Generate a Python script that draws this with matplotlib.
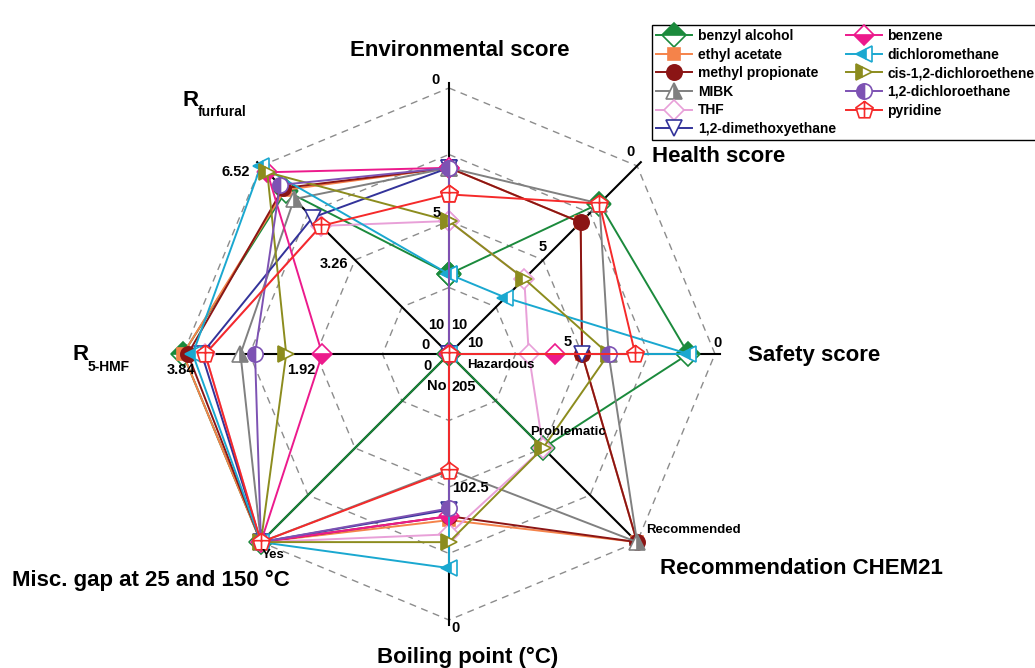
import matplotlib.pyplot as plt
import numpy as np
from matplotlib.path import Path

plt.rcParams['font.family'] = ['Liberation Sans', 'DejaVu Sans']
plt.rcParams['font.weight'] = 'bold'

# spokes, clockwise from the top
angles = np.deg2rad([90, 45, 0, -45, -90, -135, 180, 135])

solvents = ['benzyl alcohol', 'ethyl acetate', 'methyl propionate', 'MIBK', 'THF',
            '1,2-dimethoxyethane', 'benzene', 'dichloromethane',
            'cis-1,2-dichloroethene', '1,2-dichloroethane', 'pyridine']

env_score = [7, 3, 3, 3, 5, 3, 3, 7, 5, 3, 4]
health_score = [2, 3, 3, 2, 6, 10, 10, 7, 6, 10, 2]
safety_score = [1, 5, 5, 4, 7, 5, 6, 1, 4, 4, 3]
chem21 = ['Problematic', 'Recommended', 'Recommended', 'Recommended', 'Problematic',
          'Hazardous', 'Hazardous', 'Hazardous', 'Problematic', 'Hazardous', 'Hazardous']
boiling_point = [205, 77, 80, 116, 66, 85, 80, 40, 60, 86, 115]
misc_gap = ['Yes'] * 11
r_hmf = [3.84, 3.84, 3.77, 3.01, 3.52, 3.57, 1.83, 3.70, 2.35, 2.80, 3.52]
r_furfural = [5.65, 5.69, 5.75, 5.37, 4.44, 4.73, 6.30, 6.52, 6.30, 5.86, 4.44]

chem21_levels = {'Hazardous': 0.0, 'Problematic': 0.5, 'Recommended': 1.0}
gap_levels = {'No': 0.0, 'Yes': 1.0}

colors = ['#1b8a3c', '#f5834a', '#8b1515', '#808080', '#e8a0d8', '#33339a',
          '#ec1a8c', '#1aa8d0', '#8c8c1e', '#7d52b3', '#f52a2a']

# pentagon with a cross inside, used for pyridine
pent = [(np.cos(np.deg2rad(90 + 72 * k)), np.sin(np.deg2rad(90 + 72 * k))) for k in range(5)]
pyr_verts = pent + [pent[0], (0, 1), (0, -0.81), (-0.95, 0.2), (0.95, 0.2)]
pyr_codes = [Path.MOVETO] + [Path.LINETO] * 4 + [Path.CLOSEPOLY,
             Path.MOVETO, Path.LINETO, Path.MOVETO, Path.LINETO]
pyr_marker = Path(pyr_verts, pyr_codes)

styles = [
    dict(marker='D', ms=12, fillstyle='top'),
    dict(marker='s', ms=9, fillstyle='full'),
    dict(marker='o', ms=11, fillstyle='full'),
    dict(marker='^', ms=11, fillstyle='right'),
    dict(marker='D', ms=10, fillstyle='full', markerfacecolor='white'),
    dict(marker='v', ms=11, fillstyle='full', markerfacecolor='white'),
    dict(marker='D', ms=10, fillstyle='bottom'),
    dict(marker='<', ms=11, fillstyle='left'),
    dict(marker='>', ms=11, fillstyle='left'),
    dict(marker='o', ms=11, fillstyle='left'),
    dict(marker=pyr_marker, ms=13, fillstyle='full', markerfacecolor='white'),
]

fig = plt.figure(figsize=(10.35, 6.68), dpi=100)
scale = 266.0
ax = fig.add_axes([0, 0, 1, 1])
ax.set_xlim(-449 / scale, (1035 - 449) / scale)
ax.set_ylim(-(668 - 354) / scale, 354 / scale)
ax.axis('off')

# dashed rings
for frac in [0.25, 0.5, 0.75, 1.0]:
    ring = np.append(angles, angles[0])
    ax.plot(frac * np.cos(ring), frac * np.sin(ring), color='#8c8c8c',
            ls=(0, (5, 4)), lw=1.0, zorder=1)

# spokes
for a in angles:
    ax.plot([0, 1.02 * np.cos(a)], [0, 1.02 * np.sin(a)], color='black', lw=1.5, zorder=2)

handles = []
for i, name in enumerate(solvents):
    r = np.array([
        (10 - env_score[i]) / 10,
        (10 - health_score[i]) / 10,
        (10 - safety_score[i]) / 10,
        chem21_levels[chem21[i]],
        (205 - boiling_point[i]) / 205,
        gap_levels[misc_gap[i]],
        r_hmf[i] / 3.84,
        r_furfural[i] / 6.52,
    ])
    r = np.append(r, r[0])
    th = np.append(angles, angles[0])
    st = dict(styles[i])
    face = st.pop('markerfacecolor', colors[i])
    ln, = ax.plot(r * np.cos(th), r * np.sin(th), color=colors[i], lw=1.4,
                  markerfacecolor=face, markerfacecoloralt='white',
                  markeredgecolor=colors[i], markeredgewidth=1.2,
                  label=name, zorder=3 + i, **st)
    handles.append(ln)

leg = fig.legend(handles=handles, loc='upper left', ncol=2,
                 bbox_to_anchor=(652 / 1035, 1 - 25 / 668), bbox_transform=fig.transFigure,
                 prop={'weight': 'bold', 'size': 10}, frameon=True, fancybox=False,
                 edgecolor='black', framealpha=1, borderpad=0.3, labelspacing=0.33,
                 handlelength=2.6, handletextpad=0.4, columnspacing=0.7, borderaxespad=0)
leg.get_frame().set_linewidth(1.0)


def at(k, frac, dx, dy, text, size=10.5):
    ax.annotate(text, xy=(frac * np.cos(angles[k]), frac * np.sin(angles[k])),
                xytext=(dx, dy), textcoords='offset pixels', ha='center', va='center',
                fontsize=size, fontweight='bold', zorder=30)


# scale labels on the spokes
at(0, 1.0, -14, 8, '0')
at(0, 0.5, -12, 8, '5')
at(0, 0.0, -13, 29, '10')
at(1, 0.0, 10, 29, '10')
at(2, 0.0, 26, 11, '10')
at(1, 1.0, -7, 14, '0')
at(1, 0.5, 0, 13, '5')
at(2, 1.0, 2, 11, '0')
at(2, 0.5, -14, 12, '5')
at(3, 0.0, 52, -11, 'Hazardous', 9.5)
at(3, 0.5, 25, 16, 'Problematic', 9.5)
at(3, 1.0, 56, 12, 'Recommended', 9.5)
at(4, 0.0, 15, -33, '205')
at(4, 0.5, 21, -1, '102.5')
at(4, 1.0, 7, -8, '0')
at(5, 0.0, -12, -32, 'No', 10.5)
at(5, 1.0, 12, -13, 'Yes', 9.5)
at(6, 0.0, -23, 9, '0')
at(6, 0.5, -15, -16, '1.92')
at(6, 1.0, -2, -16, '3.84')
at(7, 0.0, -21, -12, '0')
at(7, 0.5, -21, -4, '3.26')
at(7, 1.0, -25, -6, '6.52')


def ftext(px, py, s, size=16, ha='center'):
    fig.text(px / 1035, 1 - py / 668, s, fontsize=size, fontweight='bold',
             ha=ha, va='center')


ftext(460, 50, 'Environmental score')
ftext(652, 157, 'Health score', ha='left')
ftext(748, 356, 'Safety score', ha='left')
ftext(660, 568, 'Recommendation CHEM21', ha='left')
ftext(468, 657, 'Boiling point (°C)')
ftext(12, 580, 'Misc. gap at 25 and 150 °C', ha='left')
ftext(72, 355, 'R', ha='left')
ftext(88, 367, '5-HMF', size=10, ha='left')
ftext(183, 101, 'R', ha='left')
ftext(198, 112, 'furfural', size=10, ha='left')

fig.savefig('out.png', dpi=100)
